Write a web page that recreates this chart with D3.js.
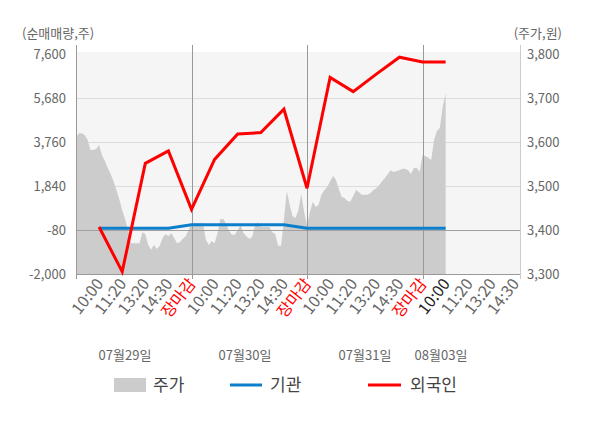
<!DOCTYPE html>
<html>
<head>
<meta charset="utf-8">
<script src="https://cdn.jsdelivr.net/npm/d3@7"></script>
<style>
	body { margin: 0; background: #fff; }
	svg text { font-family: "Noto Sans CJK KR", "Noto Sans", sans-serif; }
</style>
</head>
<body>
<svg id="chart" width="600" height="428"></svg>
<script>
// DATA
let days = ['07월29일', '07월30일', '07월31일', '08월03일'];
let timeLabels = ['10:00', '11:20', '13:20', '14:30', '장마감'];

// 순매매량 (one point per time slot, from 07/29 10:00)
let foreign = [50, -1900, 2830, 3370, 820, 3000, 4110, 4170, 5190, 1740, 6580, 5960, 6720, 7460, 7250, 7250];
let institution = [0, 0, 0, 0, 150, 150, 150, 150, 150, 0, 0, 0, 0, 0, 0, 0];

// 주가 (40 samples per trading day)
let price0729 = [3611, 3620, 3620, 3616, 3605, 3582, 3582, 3584, 3593, 3570,
	3557, 3541, 3527, 3511, 3491, 3470, 3445, 3425, 3400, 3370,
	3370, 3370, 3370, 3395, 3391, 3366, 3355, 3366, 3357, 3364,
	3382, 3391, 3386, 3393, 3382, 3370, 3373, 3380, 3386, 3400];
let price0730 = [3416, 3416, 3416, 3416, 3414, 3377, 3366, 3375, 3370, 3393,
	3425, 3425, 3414, 3398, 3389, 3389, 3400, 3411, 3393, 3386,
	3380, 3384, 3411, 3418, 3407, 3407, 3407, 3407, 3395, 3391,
	3364, 3364, 3423, 3489, 3457, 3432, 3427, 3445, 3482, 3441];
let price0731 = [3411, 3441, 3464, 3452, 3457, 3480, 3491, 3498, 3511, 3523,
	3514, 3493, 3475, 3473, 3466, 3464, 3477, 3491, 3486, 3480,
	3480, 3480, 3484, 3491, 3495, 3502, 3511, 3518, 3527, 3536,
	3532, 3534, 3536, 3539, 3539, 3536, 3527, 3541, 3541, 3532];
let price0803 = [3570, 3568, 3564, 3559, 3605, 3625, 3632, 3680, 3711];

let leftTicks = [-2000, -80, 1840, 3760, 5680, 7600];
let rightTicks = [3300, 3400, 3500, 3600, 3700, 3800];

// LAYOUT
let svg = d3.select('#chart');
let plotLeft = 76, plotRight = 520, plotTop = 54, plotBottom = 274;
let slotsPerDay = timeLabels.length;
let samplesPerDay = 40;

let x = d3.scaleLinear().domain([0, 19.22]).range([plotLeft, plotRight]);
let yNet = d3.scaleLinear().domain([-2000, 7600]).range([plotBottom, plotTop]);
let yPrice = d3.scaleLinear().domain([3300, 3800]).range([plotBottom, plotTop]);

let priceData = [];
[price0729, price0730, price0731, price0803].forEach(function(arr, d) {
	arr.forEach(function(v, i) {
		priceData.push({ t: d * slotsPerDay + i * slotsPerDay / samplesPerDay, v: v });
	});
});

// background
svg.append('rect')
	.attr('x', plotLeft).attr('y', plotTop - 2)
	.attr('width', plotRight - plotLeft).attr('height', plotBottom - plotTop + 2)
	.attr('fill', '#f5f5f5');

// horizontal grid
svg.append('g')
	.selectAll('line')
	.data(leftTicks.slice(1, -1))
	.enter()
	.append('line')
	.attr('x1', plotLeft).attr('x2', plotRight)
	.attr('y1', d => Math.round(yNet(d)) + 0.5)
	.attr('y2', d => Math.round(yNet(d)) + 0.5)
	.attr('stroke', d => d === -80 ? '#a0a0a0' : '#dcdcdc')
	.attr('stroke-width', 1);

// price area
let area = d3.area()
	.x(d => x(d.t))
	.y0(plotBottom)
	.y1(d => yPrice(d.v));

svg.append('path')
	.datum(priceData)
	.attr('d', area)
	.attr('fill', '#cccccc');

// -80 base line on top of area
svg.append('line')
	.attr('x1', plotLeft).attr('x2', plotRight)
	.attr('y1', Math.round(yNet(-80)) + 0.5).attr('y2', Math.round(yNet(-80)) + 0.5)
	.attr('stroke', '#a0a0a0');

// day separators
svg.append('g')
	.selectAll('line')
	.data([1, 2, 3])
	.enter()
	.append('line')
	.attr('x1', d => Math.round(x(d * slotsPerDay)) + 0.5)
	.attr('x2', d => Math.round(x(d * slotsPerDay)) + 0.5)
	.attr('y1', 45).attr('y2', plotBottom + 5)
	.attr('stroke', '#999');

// axes frame
svg.append('line')
	.attr('x1', plotLeft + 0.5).attr('x2', plotLeft + 0.5)
	.attr('y1', 45).attr('y2', plotBottom + 5)
	.attr('stroke', '#999');
svg.append('line')
	.attr('x1', plotRight + 0.5).attr('x2', plotRight + 0.5)
	.attr('y1', 45).attr('y2', plotBottom + 5)
	.attr('stroke', '#ccc');
svg.append('line')
	.attr('x1', plotLeft).attr('x2', plotRight)
	.attr('y1', plotBottom + 0.5).attr('y2', plotBottom + 0.5)
	.attr('stroke', '#999');

// lines
let netLine = d3.line()
	.x((d, i) => x(i + 1))
	.y(d => yNet(d));

svg.append('path')
	.datum(institution)
	.attr('d', netLine)
	.attr('fill', 'none')
	.attr('stroke', '#0b7fcb')
	.attr('stroke-width', 3);

svg.append('path')
	.datum(foreign)
	.attr('d', netLine)
	.attr('fill', 'none')
	.attr('stroke', '#ff0000')
	.attr('stroke-width', 3)
	.attr('stroke-linejoin', 'miter');

// y tick labels
svg.append('g')
	.selectAll('text')
	.data(leftTicks)
	.enter()
	.append('text')
	.attr('x', 66)
	.attr('y', d => yNet(d))
	.attr('dy', '0.35em')
	.attr('text-anchor', 'end')
	.attr('font-size', 13)
	.attr('fill', '#666')
	.text(d => d3.format(',')(d).replace('−', '-'));

svg.append('g')
	.selectAll('text')
	.data(rightTicks)
	.enter()
	.append('text')
	.attr('x', 527)
	.attr('y', d => yPrice(d))
	.attr('dy', '0.35em')
	.attr('font-size', 13)
	.attr('fill', '#666')
	.text(d => d3.format(',')(d));

svg.append('text')
	.attr('x', 22).attr('y', 38)
	.attr('font-size', 13).attr('fill', '#666')
	.text('(순매매량,주)');
svg.append('text')
	.attr('x', 562).attr('y', 38)
	.attr('text-anchor', 'end')
	.attr('font-size', 13).attr('fill', '#666')
	.text('(주가,원)');

// x labels
let xLabels = [];
days.forEach(function(day, d) {
	timeLabels.forEach(function(t, i) {
		let slot = d * slotsPerDay + i + 1;
		if (slot < 19.22) xLabels.push({ slot: slot, text: t, day: d, i: i });
	});
});

svg.append('g')
	.selectAll('text')
	.data(xLabels)
	.enter()
	.append('text')
	.attr('transform', d => 'translate(' + (x(d.slot) + 5) + ',' + 284 + ') rotate(-52)')
	.attr('text-anchor', 'end')
	.attr('font-size', 16)
	.attr('fill', d => d.text === '장마감' ? '#ff0000' : (d.day === 3 && d.i === 0 ? '#222' : '#666'))
	.text(d => d.text);

let dateLabelX = [125, 245, 365, 441];
svg.append('g')
	.selectAll('text')
	.data(days)
	.enter()
	.append('text')
	.attr('x', (d, i) => dateLabelX[i])
	.attr('y', 360)
	.attr('text-anchor', 'middle')
	.attr('font-size', 13)
	.attr('fill', '#666')
	.text(d => d);

// legend
let legend = svg.append('g').attr('transform', 'translate(0,385)');
legend.append('rect')
	.attr('x', 114).attr('y', -7).attr('width', 32).attr('height', 14)
	.attr('fill', '#cccccc');
legend.append('line')
	.attr('x1', 230).attr('x2', 262).attr('y1', 0).attr('y2', 0)
	.attr('stroke', '#0b7fcb').attr('stroke-width', 3);
legend.append('line')
	.attr('x1', 368).attr('x2', 401).attr('y1', 0).attr('y2', 0)
	.attr('stroke', '#ff0000').attr('stroke-width', 3);
legend.selectAll('text.lbl')
	.data([['주가', 153], ['기관', 270], ['외국인', 410]])
	.enter()
	.append('text')
	.attr('x', d => d[1]).attr('y', 0).attr('dy', '0.36em')
	.attr('font-size', 17).attr('fill', '#444')
	.text(d => d[0]);
</script>
</body>
</html>
